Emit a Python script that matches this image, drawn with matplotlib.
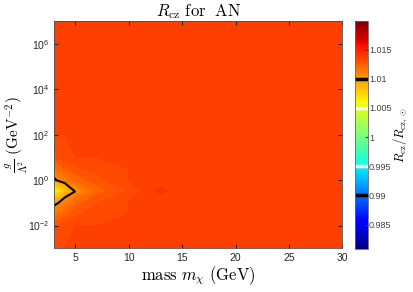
import numpy as np
import matplotlib
matplotlib.use("Agg")
import matplotlib.pyplot as plt
from matplotlib.colors import Normalize
from matplotlib.cm import ScalarMappable

plt.rcParams['mathtext.fontset'] = 'cm'
plt.rcParams['font.family'] = 'Liberation Sans'

# grid of the scan: dark matter mass (GeV) and log10 of g/Lambda^2 (GeV^-2)
mass = [3, 4, 5, 7, 10, 13, 15, 20, 25, 30]
log_g = [-3, -2, -1.5, -1, -0.5, 0, 0.5, 1, 2, 4, 7]

# R_cz / R_cz,sun on that grid (rows follow log_g, columns follow mass)
ratio = [
    [1.0135, 1.0135, 1.0135, 1.0135, 1.0135, 1.0135, 1.0135, 1.0135, 1.0135, 1.0135],
    [1.0128, 1.0132, 1.0135, 1.0135, 1.0135, 1.0135, 1.0135, 1.0135, 1.0135, 1.0135],
    [1.0112, 1.0122, 1.0128, 1.0133, 1.0135, 1.0135, 1.0135, 1.0135, 1.0135, 1.0135],
    [1.0093, 1.0110, 1.0122, 1.0130, 1.0135, 1.0135, 1.0135, 1.0135, 1.0135, 1.0135],
    [1.0060, 1.0080, 1.0101, 1.0122, 1.0131, 1.0142, 1.0135, 1.0135, 1.0135, 1.0135],
    [1.0097, 1.0112, 1.0122, 1.0128, 1.0135, 1.0135, 1.0135, 1.0135, 1.0135, 1.0135],
    [1.0118, 1.0125, 1.0129, 1.0133, 1.0135, 1.0135, 1.0135, 1.0135, 1.0135, 1.0135],
    [1.0130, 1.0133, 1.0135, 1.0135, 1.0135, 1.0135, 1.0135, 1.0135, 1.0135, 1.0135],
    [1.0135, 1.0135, 1.0135, 1.0135, 1.0135, 1.0135, 1.0135, 1.0135, 1.0135, 1.0135],
    [1.0135, 1.0135, 1.0135, 1.0135, 1.0135, 1.0135, 1.0135, 1.0135, 1.0135, 1.0135],
    [1.0135, 1.0135, 1.0135, 1.0135, 1.0135, 1.0135, 1.0135, 1.0135, 1.0135, 1.0135],
]

cbar_ticks = [0.985, 0.99, 0.995, 1, 1.005, 1.01, 1.015]
cbar_labels = ['0.985', '0.99', '0.995', '1', '1.005', '1.01', '1.015']
black_levels = [0.99, 1.01]
white_levels = [0.995, 1.005]

vmin, vmax = 0.9808, 1.0199
M, G = np.meshgrid(mass, 10.0 ** np.array(log_g))
Z = np.array(ratio)

fig = plt.figure(figsize=(4.13, 2.92), dpi=100)
ax = fig.add_axes([0.131, 0.150, 0.698, 0.777])
cax = fig.add_axes([0.860, 0.147, 0.031, 0.781])

cmap = plt.get_cmap('jet')
norm = Normalize(vmin, vmax)
levels = np.arange(1.0050, 1.0150, 0.0005)
ax.contourf(M, G, Z, levels=levels, cmap=cmap, norm=norm, extend='both')
ax.contour(M, G, Z, levels=[1.01], colors='k', linewidths=1.5)

ax.set_yscale('log')
ax.set_xlim(3, 30)
ax.set_ylim(1e-3, 1e7)
ax.set_xticks([5, 10, 15, 20, 25, 30])
ax.set_yticks([1e-2, 1e0, 1e2, 1e4, 1e6])
ax.tick_params(which='both', direction='in', top=True, right=True,
               labelsize=7.5, colors='0.15', length=3)
ax.tick_params(which='minor', length=1.5)
for s in ax.spines.values():
    s.set_color('0.3')
    s.set_linewidth(0.6)

ax.set_title(r'$R_{\rm cz}\ \mathrm{for\ \ AN}$', fontsize=12, pad=4)
ax.set_xlabel(r'$\mathrm{mass}\ m_\chi\ \mathrm{(GeV)}$', fontsize=12,
              labelpad=1)
ax.set_ylabel(r'$\frac{g}{\Lambda^2}\ \mathrm{(GeV^{-2})}$', fontsize=11)
ax.yaxis.set_label_coords(-0.085, 0.5)

cb = fig.colorbar(ScalarMappable(norm=norm, cmap=cmap), cax=cax)
cb.set_ticks(cbar_ticks)
cb.set_ticklabels(cbar_labels)
cb.ax.tick_params(labelsize=6.5, colors='0.25', direction='in', length=2,
                  pad=0.8)
cb.outline.set_edgecolor('0.4')
cb.outline.set_linewidth(0.6)
for lv in black_levels:
    cax.axhline(lv, color='k', linewidth=2.5)
for lv in white_levels:
    cax.axhline(lv, color='w', linewidth=2.5)
cb.set_label(r'$R_{\rm cz}/R_{\rm cz,\odot}$', fontsize=9)
cax.yaxis.set_label_coords(2.85, 0.5)

fig.savefig('out.png', dpi=100)
